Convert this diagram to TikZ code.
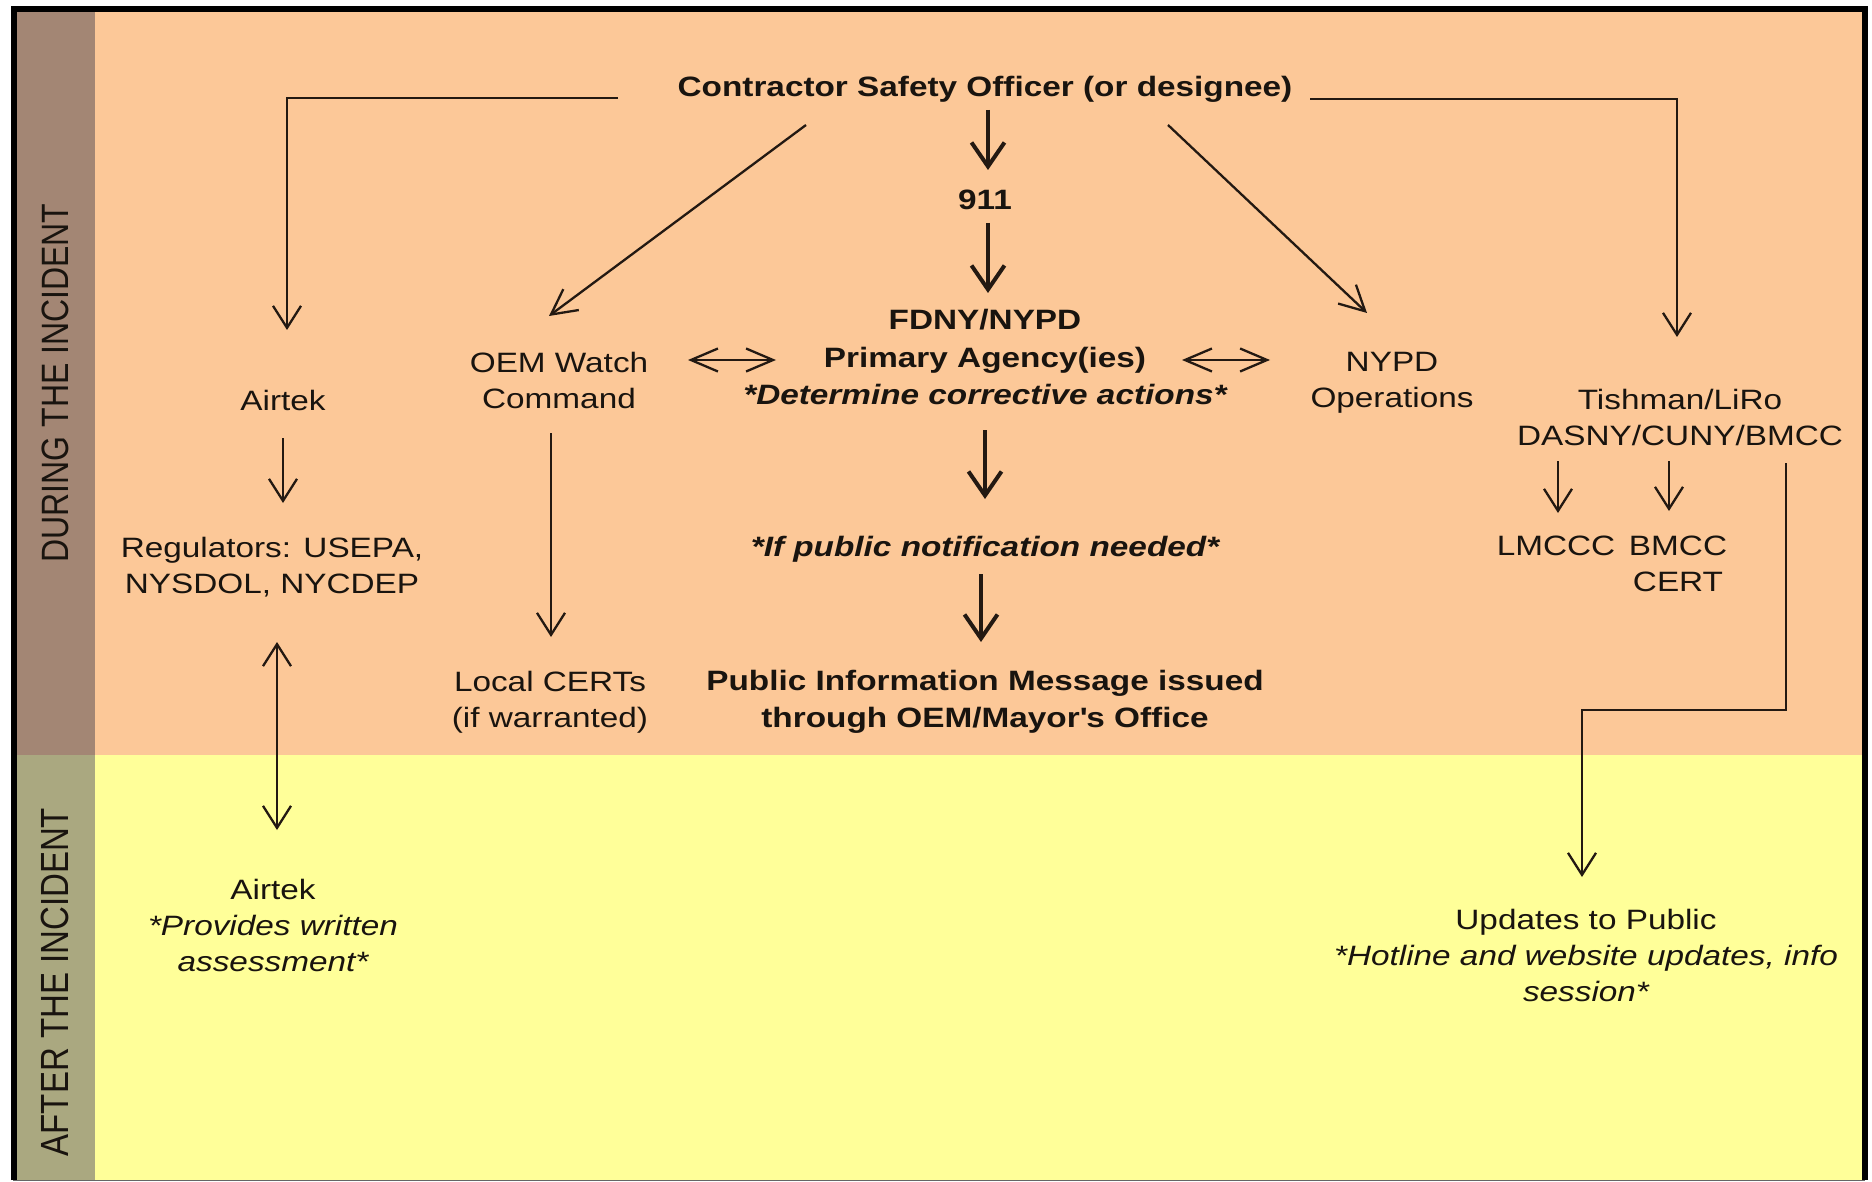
\documentclass[tikz,border=0pt]{standalone}
\usepackage{fontspec}
\usepackage{graphicx}
\setmainfont{Liberation Sans}[FakeStretch=1.19]
\newfontfamily\sidefont{Liberation Sans}
\usetikzlibrary{arrows.meta,calc}
\definecolor{orangebg}{RGB}{252,200,152}
\definecolor{yellowbg}{RGB}{255,255,153}
\definecolor{bartop}{RGB}{163,134,116}
\definecolor{barbot}{RGB}{170,168,128}
\definecolor{ink}{RGB}{25,20,15}
\definecolor{linec}{RGB}{35,25,18}
\begin{document}
\begin{tikzpicture}[x=1pt,y=-1pt,
  lbl/.style={inner sep=0pt, align=center, text=ink, font=\fontsize{28}{36}\selectfont},
  blbl/.style={inner sep=0pt, align=center, text=ink, font=\fontsize{28}{37}\selectfont\bfseries},
  bilbl/.style={inner sep=0pt, align=center, text=ink, font=\fontsize{28}{37}\selectfont\bfseries\itshape},
  sidelbl/.style={inner sep=0pt, rotate=90, text=ink},
  conn/.style={draw=linec, line width=2.3pt},
  varr/.style={conn, -{Straight Barb[length=22pt,width=28pt]}},
  vdbl/.style={conn, {Straight Barb[length=22pt,width=28pt]}-{Straight Barb[length=22pt,width=28pt]}},
  hdbl/.style={conn, {Straight Barb[length=27pt,width=23pt]}-{Straight Barb[length=27pt,width=23pt]}},
  darr/.style={conn, -{Straight Barb[length=25pt,width=26pt]}},
  tarr/.style={draw=linec, line width=4pt, -{Straight Barb[length=24pt,width=33pt]}}
]
\useasboundingbox (0,0) rectangle (1872,1182);
% backgrounds
\fill[white] (0,0) rectangle (1872,1182);
\fill[orangebg] (17,12) rectangle (1863,755);
\fill[yellowbg] (17,755) rectangle (1863,1180);
\fill[bartop] (17,12) rectangle (95,755);
\fill[barbot] (17,755) rectangle (95,1180);
\draw[black!60, line width=1.5pt] (13,1180.5) -- (1865,1180.5);
\draw[black, line width=6pt] (13.5,1180) -- (13.5,9.5) -- (1864.5,9.5) -- (1864.5,1180);

% side labels
\node[sidelbl] (during) at (55,383) {\scalebox{1}[1.19]{\sidefont\fontsize{32}{32}\selectfont DURING THE INCIDENT}};
\node[sidelbl] (after) at (55,982) {\scalebox{1}[1.19]{\sidefont\fontsize{33}{33}\selectfont AFTER THE INCIDENT}};

% nodes
\node[blbl] (cso) at (985,89) {Contractor Safety Officer (or designee)};
\node[blbl] (n911) at (985,200) {911};
\node[blbl] (fdny) at (985,320) {FDNY/NYPD};
\node[blbl] (primary) at (985,360) {Primary Agency(ies)};
\node[bilbl] (determine) at (985,394) {*Determine corrective actions*};
\node[bilbl] (ifpub) at (985,549) {*If public notification needed*};
\node[blbl] (pim) at (985,702) {Public Information Message issued\\through OEM/Mayor\textquotesingle s Office};
\node[lbl] (oem) at (559,380) {OEM Watch\\Command};
\node[lbl] (nypd) at (1392,383) {NYPD\\Operations};
\node[lbl] (airtek1) at (283,400) {Airtek};
\node[lbl] (tish) at (1680,417) {Tishman/LiRo\\DASNY/CUNY/BMCC};
\node[lbl] (regs) at (272,567) {Regulators: USEPA,\\NYSDOL, NYCDEP};
\node[lbl] (local) at (550,702) {Local CERTs\\(if warranted)};
\node[lbl] (lmccc) at (1556,546) {LMCCC};
\node[lbl] (bmcc) at (1678,564) {BMCC\\CERT};
\node[lbl] (updates) at (1586,955) {Updates to Public\\{\itshape *Hotline and website updates, info}\\{\itshape session*}};
\node[lbl] (airtek2) at (273,925) {Airtek\\{\itshape *Provides written}\\{\itshape assessment*}};

% connectors
\draw[varr] ($(cso)+(-367,9)$) -| ($(airtek1)+(4,-70)$);
\draw[varr] ($(cso)+(325,10)$) -| ($(tish)+(-3,-80)$);
\draw[tarr] ($(cso)+(3,21)$) -- ($(n911)+(3,-30)$);
\draw[tarr] ($(n911)+(3,23)$) -- ($(fdny)+(3,-27)$);
\draw[darr] ($(cso)+(-179,36)$) -- ($(oem)+(-10,-64)$);
\draw[darr] ($(cso)+(183,36)$) -- ($(nypd)+(-25,-70)$);
\draw[hdbl] ($(oem)+(129,-20)$) -- ($(primary)+(-209,0)$);
\draw[hdbl] ($(primary)+(197,0)$) -- ($(nypd)+(-122,-23)$);
\draw[varr] ($(airtek1)+(0,38)$) -- ($(regs)+(11,-64)$);
\draw[varr] ($(oem)+(-8,53)$) -- ($(local)+(1,-65)$);
\draw[tarr] ($(determine)+(0,36)$) -- ($(ifpub)+(0,-50)$);
\draw[tarr] ($(ifpub)+(-4,25)$) -- ($(pim)+(-4,-60)$);
\draw[varr] ($(tish)+(-122,44)$) -- ($(lmccc)+(2,-33)$);
\draw[varr] ($(tish)+(-11,44)$) -- ($(bmcc)+(-9,-53)$);
\draw[varr] ($(tish)+(106,46)$) |- ($(updates)+(-4,-245)$) -- ($(updates)+(-4,-78)$);
\draw[vdbl] ($(regs)+(5,75)$) -- ($(airtek2)+(4,-95)$);
\end{tikzpicture}
\end{document}
